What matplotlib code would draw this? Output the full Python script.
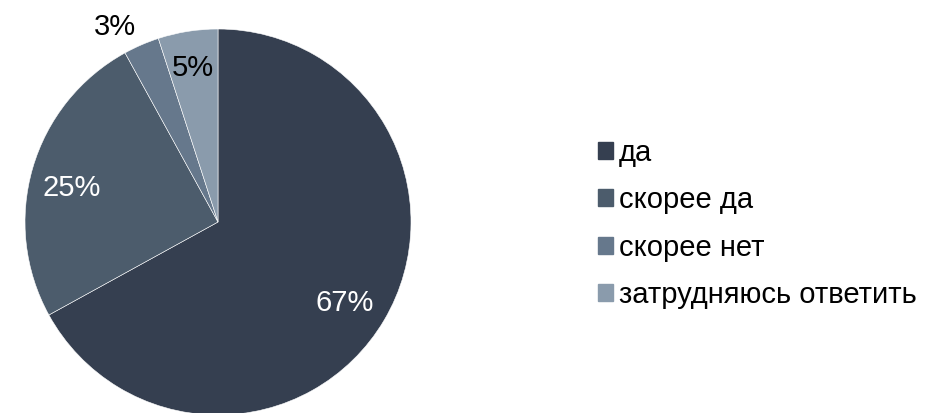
import numpy as np
import matplotlib.pyplot as plt
import matplotlib.patches as mpatches

plt.rcParams['font.family'] = ['Liberation Sans', 'DejaVu Sans']

labels = ['да', 'скорее да', 'скорее нет', 'затрудняюсь ответить']
values = [67, 25, 3, 5]
colors = ['#353f50', '#4c5c6c', '#66788c', '#8a9bac']
text_colors = ['white', 'white', 'black', 'black']
# label placement: radial distance and angle shift from wedge middle
label_dist = [0.772, 0.782, 1.154, 0.824]
label_shift = [-1.0, 2.2, 4.1, 0.0]

fig = plt.figure(figsize=(9.53, 4.13), dpi=100)
# pie centre (218, 222) px, radius 193 px
ax = fig.add_axes([(218 - 193) / 953, (413 - 222 - 193) / 413, 386 / 953, 386 / 413])
wedges, _ = ax.pie(values, colors=colors, startangle=90, counterclock=False,
                   wedgeprops=dict(edgecolor='white', linewidth=0.4))
ax.set_xlim(-1, 1)
ax.set_ylim(-1, 1)
ax.set_aspect('equal')

for w, v, tc, d, s in zip(wedges, values, text_colors, label_dist, label_shift):
    ang = np.deg2rad((w.theta1 + w.theta2) / 2 + s)
    ax.annotate(f'{v}%', (d * np.cos(ang), d * np.sin(ang)), xytext=(0, -2),
                textcoords='offset points', color=tc, fontsize=21,
                ha='center', va='center', annotation_clip=False)

handles = [mpatches.Patch(color=c, label=l) for c, l in zip(colors, labels)]
fig.legend(handles=handles, loc='center left', bbox_to_anchor=(598 / 953, 1 - 224 / 413),
           frameon=False, fontsize=21, handlelength=0.52, handleheight=0.52,
           handletextpad=0.2, labelspacing=0.67, borderpad=0, borderaxespad=0)

fig.savefig('out.png', dpi=100)
